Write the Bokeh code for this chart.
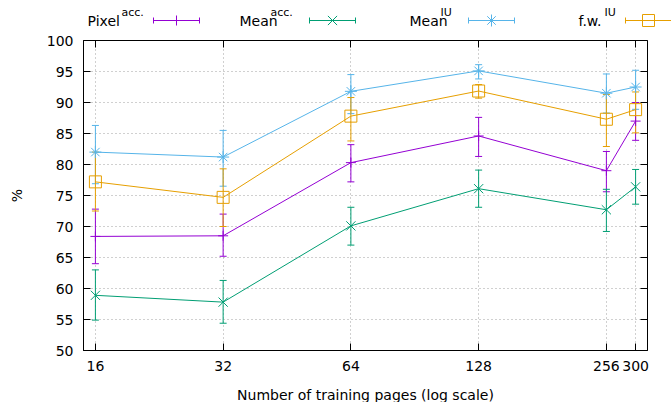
from bokeh.plotting import figure
from bokeh.models import (Range1d, FixedTicker, NumeralTickFormatter, LinearAxis, LogAxis,
                          Whisker, TeeHead, ColumnDataSource, Title)
from bokeh.layouts import column
from bokeh.embed import file_html
from bokeh.resources import INLINE
from bokeh.core.properties import value

# ---------------- data ----------------
pages = [16, 32, 64, 128, 256, 300]

pixel_acc    = [68.4, 68.5, 80.3, 84.6, 79.0, 87.0]
pixel_acc_lo = [64.0, 65.2, 77.2, 81.3, 75.6, 83.9]
pixel_acc_hi = [72.8, 72.0, 83.2, 87.6, 82.1, 90.0]

mean_acc    = [58.9, 57.8, 70.1, 76.1, 72.7, 76.4]
mean_acc_lo = [54.9, 54.4, 67.0, 73.1, 69.2, 73.6]
mean_acc_hi = [63.0, 61.3, 73.1, 79.1, 76.0, 79.2]

mean_iu    = [82.0, 81.2, 91.8, 95.1, 91.5, 92.5]
mean_iu_lo = [76.9, 76.5, 88.2, 93.8, 88.3, 88.9]
mean_iu_hi = [86.3, 85.5, 94.5, 96.1, 94.6, 95.2]

fw_iu    = [77.2, 74.7, 87.8, 91.85, 87.3, 88.85]
fw_iu_lo = [72.5, 70.0, 83.8, 90.7, 82.9, 85.1]
fw_iu_hi = [82.0, 79.3, 90.8, 92.9, 91.3, 91.7]

y_ticks = [50, 55, 60, 65, 70, 75, 80, 85, 90, 95, 100]

series_names = ["Pixel", "Mean", "Mean", "f.w."]
series_sups = ["acc.", "acc.", "IU", "IU"]
colors = ["#9400D3", "#009E73", "#56B4E9", "#E69F00"]
markers = ["cross", "x", "asterisk", "square"]
marker_sizes = [10, 13, 12, 12]

x_title = "Number of training pages (log scale)"
y_title = "%"

FONT = "DejaVu Sans"

# ---------------- main plot ----------------
p = figure(width=671, height=370, x_axis_type="log",
           x_range=Range1d(15, 320), y_range=Range1d(50, 100),
           output_backend="svg", toolbar_location=None,
           min_border_left=83, min_border_right=24, min_border_top=8, min_border_bottom=51,
           y_axis_label=y_title)
p.frame_align = False

p.outline_line_color = "black"
p.outline_line_width = 1

p.xaxis.ticker = FixedTicker(ticks=pages)
p.xaxis.formatter = NumeralTickFormatter(format="0")
p.yaxis.ticker = FixedTicker(ticks=y_ticks)
for ax in (p.xaxis[0], p.yaxis[0]):
    ax.major_tick_in = 7
    ax.major_tick_out = 0
    ax.minor_tick_line_color = None
    ax.axis_line_color = "black"
    ax.major_tick_line_color = "black"
    ax.major_label_text_font = FONT
    ax.major_label_text_font_size = "14px"
    ax.major_label_text_color = "black"
    ax.axis_label_text_font = FONT
    ax.axis_label_text_font_size = "14px"
    ax.axis_label_text_font_style = "normal"
    ax.axis_label_text_color = "black"
p.xaxis.major_label_standoff = 10
p.yaxis.major_label_standoff = 10
p.yaxis.axis_label_standoff = 19

# thin invisible spacer between the tick labels and the x title
spacer = LogAxis(ticker=FixedTicker(ticks=[]), major_label_text_font_size="0px",
                 major_tick_line_color=None, minor_tick_line_color=None,
                 axis_line_color=None, major_label_standoff=0,
                 axis_label=".", axis_label_text_font_size="1px",
                 axis_label_text_alpha=0, axis_label_standoff=7)
p.add_layout(spacer, "below")

# x-axis title as a 'below' title panel
p.add_layout(Title(text=x_title, align="center", text_font=FONT, text_font_size="14px",
                   text_font_style="normal", text_color="black", standoff=0, offset=0),
             "below")

# mirror ticks
yr = LinearAxis(ticker=FixedTicker(ticks=y_ticks), major_label_text_font_size="0px",
                major_tick_in=7, major_tick_out=0, minor_tick_line_color=None,
                axis_line_color=None, major_label_standoff=0)
p.add_layout(yr, "right")
xt = LogAxis(ticker=FixedTicker(ticks=pages), major_label_text_font_size="0px",
             major_tick_in=7, major_tick_out=0, minor_tick_line_color=None,
             axis_line_color=None, major_label_standoff=0)
p.add_layout(xt, "above")

p.xgrid.ticker = FixedTicker(ticks=pages)
p.ygrid.ticker = FixedTicker(ticks=y_ticks)
for g in (p.xgrid[0], p.ygrid[0]):
    g.grid_line_color = "#a0a0a0"
    g.grid_line_dash = "1 3"
    g.grid_line_width = 1

all_series = [
    (pixel_acc, pixel_acc_lo, pixel_acc_hi),
    (mean_acc, mean_acc_lo, mean_acc_hi),
    (mean_iu, mean_iu_lo, mean_iu_hi),
    (fw_iu, fw_iu_lo, fw_iu_hi),
]

for (vals, lo, hi), c, m, ms in zip(all_series, colors, markers, marker_sizes):
    src = ColumnDataSource(dict(x=pages, y=vals, lo=lo, hi=hi))
    w = Whisker(source=src, base="x", lower="lo", upper="hi",
                line_color=c, line_width=1,
                upper_head=TeeHead(size=7, line_color=c, line_width=1),
                lower_head=TeeHead(size=7, line_color=c, line_width=1))
    p.add_layout(w)
    p.line("x", "y", source=src, line_color=c, line_width=1)
    p.scatter("x", "y", source=src, marker=m, size=ms, line_color=c,
              fill_color=None, line_width=1)

# ---------------- legend strip (pixel coordinates) ----------------
leg_text_x = [87, 239, 409, 578]
leg_sup_x = [121, 270, 440, 604]
leg_sample_x0 = [153, 309, 468, 625]
leg_sample_len = 46

lf = figure(width=671, height=32, x_range=Range1d(0, 671), y_range=Range1d(0, 32),
            output_backend="svg", toolbar_location=None,
            min_border=0, min_border_left=0, min_border_right=0,
            min_border_top=0, min_border_bottom=0,
            x_axis_location=None, y_axis_location=None)
lf.frame_align = False
lf.grid.visible = False
lf.outline_line_color = None

lf.text(x=leg_text_x, y=[12] * 4, text=series_names, text_font=value(FONT),
        text_font_size="14px", text_baseline="middle", text_align="left",
        text_color="black")
lf.text(x=leg_sup_x, y=[20] * 4, text=series_sups, text_font=value(FONT),
        text_font_size="11px", text_baseline="middle", text_align="left",
        text_color="black")
x0s = leg_sample_x0
x1s = [a + leg_sample_len for a in x0s]
mids = [a + leg_sample_len / 2 for a in x0s]
lf.segment(x0=x0s, y0=[12] * 4, x1=x1s, y1=[12] * 4, line_color=colors, line_width=1)
lf.segment(x0=x0s, y0=[9] * 4, x1=x0s, y1=[15] * 4, line_color=colors, line_width=1)
lf.segment(x0=x1s, y0=[9] * 4, x1=x1s, y1=[15] * 4, line_color=colors, line_width=1)
for xm, c, m, ms in zip(mids, colors, markers, marker_sizes):
    lf.scatter(x=[xm], y=[12], marker=m, size=ms, line_color=c, fill_color=None, line_width=1)

layout = column(lf, p, spacing=0)
open("out.html", "w").write(file_html(layout, INLINE))
